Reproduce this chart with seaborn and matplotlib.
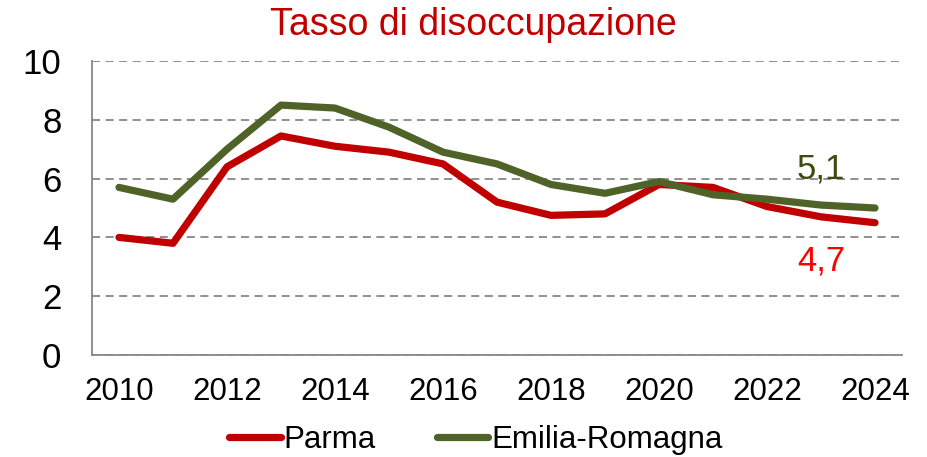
import matplotlib
matplotlib.use("Agg")
import matplotlib.pyplot as plt
from matplotlib.ticker import MultipleLocator, FixedLocator
import numpy as np
import pandas as pd
import seaborn as sns

years = [2010, 2011, 2012, 2013, 2014, 2015, 2016, 2017, 2018, 2019, 2020, 2021, 2022, 2023, 2024]
parma = [4.0, 3.8, 6.4, 7.45, 7.1, 6.9, 6.5, 5.2, 4.75, 4.8, 5.8, 5.7, 5.05, 4.7, 4.5]
emilia_romagna = [5.7, 5.3, 7.0, 8.5, 8.4, 7.75, 6.9, 6.5, 5.8, 5.5, 5.9, 5.45, 5.3, 5.1, 5.0]
series_names = ["Parma", "Emilia-Romagna"]
series_colors = ["#C00000", "#4F6228"]
label_year = 2023

df = pd.DataFrame({
    "anno": years * 2,
    "tasso": parma + emilia_romagna,
    "area": [series_names[0]] * len(years) + [series_names[1]] * len(years),
})

sns.set_theme(style="white")
plt.rcParams["font.family"] = ["Liberation Sans", "DejaVu Sans"]
plt.rcParams["text.color"] = "black"

fig = plt.figure(figsize=(9.28, 4.57), dpi=100)
ax = fig.add_axes([92 / 928, 1 - 355 / 457, 810 / 928, 294 / 457])

sns.lineplot(data=df, x="anno", y="tasso", hue="area", hue_order=series_names,
             palette=series_colors, linewidth=5.2, ax=ax, legend=False,
             solid_capstyle="round", solid_joinstyle="round")

ax.set_xlim(years[0] - 0.5, years[-1] + 0.5)
ax.set_ylim(0, 10)
ax.yaxis.set_major_locator(MultipleLocator(2))
ax.xaxis.set_major_locator(FixedLocator([y for y in years if y % 2 == 0]))
ax.xaxis.set_minor_locator(FixedLocator([y - 0.5 for y in years] + [years[-1] + 0.5]))
ax.set_xlabel("")
ax.set_ylabel("")

grid_color = "#878787"
ax.grid(axis="y", color=grid_color, linestyle=(0, (4.5, 3)), linewidth=1.3)
ax.set_axisbelow(True)
for side in ["top", "right"]:
    ax.spines[side].set_visible(False)
for side in ["left", "bottom"]:
    ax.spines[side].set_color(grid_color)
    ax.spines[side].set_linewidth(1.3)

ax.tick_params(axis="y", which="major", direction="out", length=8, width=1.3,
               color=grid_color, labelsize=25, pad=14, labelcolor="black")
ax.tick_params(axis="x", which="major", length=0, labelsize=22.5, pad=16, labelcolor="black")
ax.tick_params(axis="x", which="minor", direction="out", length=7, width=1.3, color=grid_color)

# values for the labelled year
idx = years.index(label_year)
ax.text(label_year, emilia_romagna[idx] + 0.9, f"{emilia_romagna[idx]:.1f}".replace(".", ","),
        color="#3D4A12", fontsize=25, ha="center", va="baseline")
ax.text(label_year, parma[idx] - 0.95, f"{parma[idx]:.1f}".replace(".", ","),
        color="#FF0000", fontsize=25, ha="center", va="top")

fig.text(473 / 928, 1 - 25 / 457, "Tasso di disoccupazione", color="#C00000",
         fontsize=27, ha="center", va="center")

handles = [plt.Line2D([], [], color=c, linewidth=5.2, solid_capstyle="round") for c in series_colors]
fig.legend(handles, series_names, loc="center", bbox_to_anchor=(476 / 928, 1 - 440 / 457),
           ncol=2, frameon=False, fontsize=22.5, handlelength=1.65, handletextpad=0.1,
           columnspacing=1.95, borderaxespad=0, labelcolor="black")

fig.savefig("out.png", dpi=100)
